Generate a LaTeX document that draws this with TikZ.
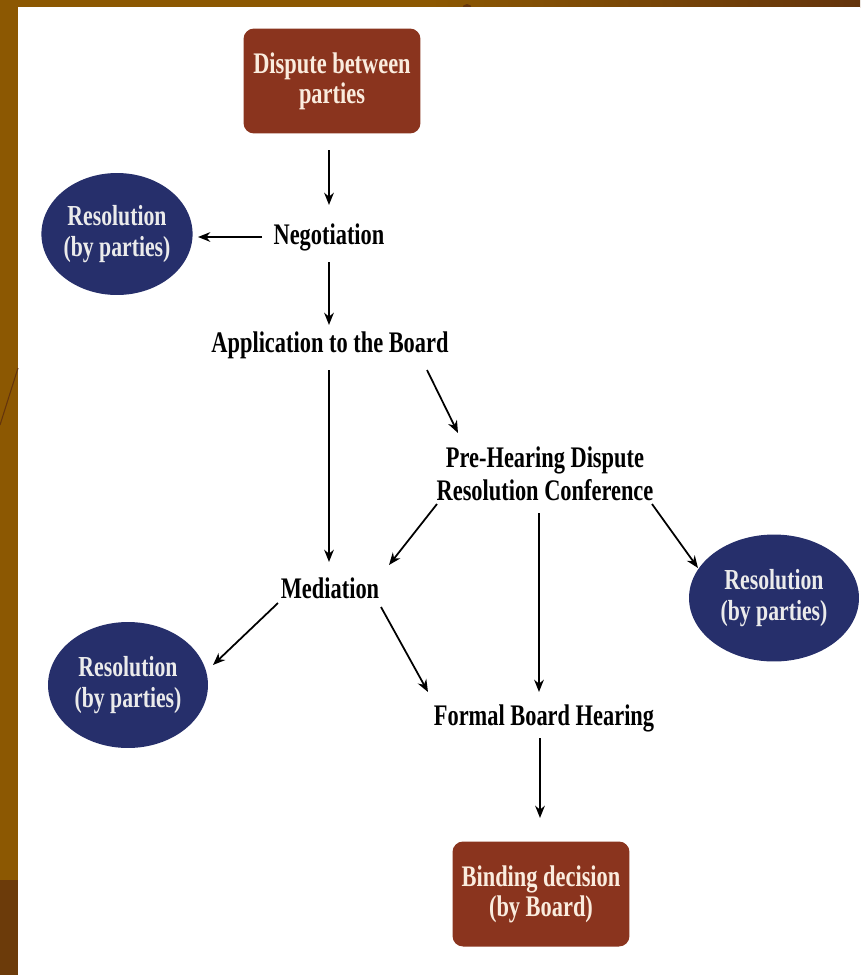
\documentclass[tikz,border=0pt]{standalone}
\usepackage{fontspec}
\setmainfont{Liberation Serif}[FakeStretch=0.75]
\usepackage{tikz}
\usetikzlibrary{shapes.geometric, arrows.meta, positioning, calc}

\definecolor{slidebrown}{RGB}{140,88,2}
\definecolor{slidedark}{RGB}{100,52,12}
\definecolor{boxbrown}{RGB}{138,52,30}
\definecolor{ovalblue}{RGB}{38,47,107}
\definecolor{boxtext}{RGB}{250,236,222}

\begin{document}
\begin{tikzpicture}[
        x=0.02cm, y=-0.02cm,
        endbox/.style={rectangle, fill=boxbrown, rounded corners=6pt, minimum width=3.54cm, minimum height=2.1cm, align=center, text=boxtext, font=\fontsize{17}{17}\selectfont\bfseries},
        resoval/.style={ellipse,
        fill=ovalblue,
        inner sep=0pt,
        align=center,
        text=white!92!black,
        font=\fontsize{16.5}{18}\selectfont\bfseries},
        stepnode/.style={inner sep=2pt, align=center, font=\fontsize{17}{18.7}\selectfont\bfseries},
        arrow/.style={line width=1pt, -{Stealth[length=7pt, width=5.5pt]}}
    ]

    % --- SLIDE BACKGROUND ---
    \useasboundingbox (0,0) rectangle (860,975);
    \fill [slidebrown] (0,0) rectangle (860,975);
    \shade [left color=slidebrown, right color=slidedark] (430,0) rectangle (860,7);
    \fill [slidedark!80!slidebrown] (0,880) rectangle (18,975);
    \fill [slidedark] (467,9) circle (5);
    \fill [white] (18,7) rectangle (860,975);
    \draw [slidedark, line width=0.6pt] (18,368) -- (0,425);

    % --- START ---
    \node (dispute) [endbox] at (332,81) {Dispute between\\parties};
    \node (nego) [stepnode] at (329,237) {Negotiation};
    \node (res1) [resoval, minimum width=3.02cm, minimum height=2.44cm] at (117,234) {Resolution\\(by parties)};
    \node (apply) [stepnode] at (330,345) {Application to the Board};

    % --- CONFERENCE AND MEDIATION ---
    \node (pre) [stepnode] at (545,474) {Pre-Hearing Dispute\\Resolution Conference};
    \node (res2) [resoval, minimum width=3.4cm, minimum height=2.54cm] at (774,598) {Resolution\\(by parties)};
    \node (medi) [stepnode] at (330,588) {Mediation};
    \node (res3) [resoval, minimum width=3.2cm, minimum height=2.52cm] at (128,685) {Resolution\\(by parties)};

    % --- HEARING ---
    \node (formal) [stepnode] at (544,718) {Formal Board Hearing};
    \node (binding) [endbox] at (541,894) {Binding decision\\(by Board)};

    % --- ARROWS ---
    \draw [arrow] ($(dispute)+(-3,69)$) -- ($(nego)+(0,-32)$);
    \draw [arrow] ($(nego)+(-67,0)$) -- ($(res1)+(81,3)$);
    \draw [arrow] ($(nego)+(0,25)$) -- ($(apply)+(-1,-20)$);
    \draw [arrow] ($(apply)+(-1,25)$) -- ($(medi)+(-1,-26)$);
    \draw [arrow] ($(apply)+(97,25)$) -- ($(pre)+(-87,-41)$);
    \draw [arrow] ($(pre)+(-108,30)$) -- ($(medi)+(59,-23)$);
    \draw [arrow] ($(pre)+(-6,39)$) -- ($(formal)+(-5,-26)$);
    \draw [arrow] ($(pre)+(107,30)$) -- ($(res2)+(-76,-30)$);
    \draw [arrow] ($(medi)+(-52,15)$) -- ($(res3)+(85,-20)$);
    \draw [arrow] ($(medi)+(51,19)$) -- ($(formal)+(-116,-26)$);
    \draw [arrow] ($(formal)+(-4,20)$) -- ($(binding)+(-1,-76)$);

\end{tikzpicture}
\end{document}
